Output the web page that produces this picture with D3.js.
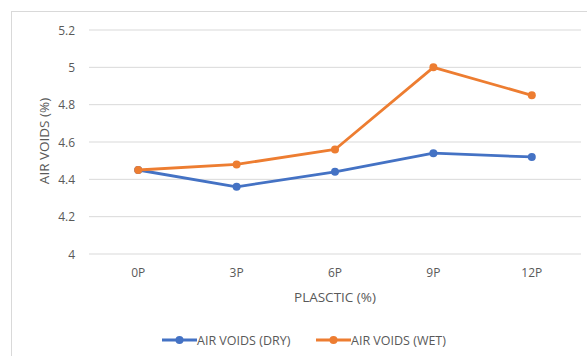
<!DOCTYPE html>
<html><head><meta charset="utf-8">
<script src="https://cdn.jsdelivr.net/npm/d3@7"></script>
<style>body{margin:0;background:#fff}svg{display:block}text{font-family:"Open Sans",sans-serif;fill:#595959}</style>
</head><body><svg id="c" width="587" height="356"></svg>
<script>
const categories = ["0P","3P","6P","9P","12P"];
const dryValues = [4.45,4.36,4.44,4.54,4.52];
const wetValues = [4.45,4.48,4.56,5.0,4.85];
const yTicks = [4,4.2,4.4,4.6,4.8,5,5.2];
const seriesNames = ["AIR VOIDS (DRY)","AIR VOIDS (WET)"];
const colors = ["#4472C4","#ED7D31"];

const svg = d3.select("#c");
svg.append("rect").attr("x",11.5).attr("y",11.5).attr("width",590).attr("height",360)
  .attr("fill","#fff").attr("stroke","#d9d9d9");

const x = d3.scaleBand().domain(categories).range([89,581]);
const y = d3.scaleLinear().domain([4,5.2]).range([254,30]);

const g = svg.append("g");
g.selectAll("line.grid").data(yTicks).join("line")
  .attr("x1",89).attr("x2",581).attr("y1",d=>y(d)).attr("y2",d=>y(d))
  .attr("stroke","#d9d9d9").attr("stroke-width",1);

g.selectAll("text.yt").data(yTicks).join("text")
  .attr("x",75).attr("y",d=>y(d)+4.5).attr("text-anchor","end")
  .attr("font-size",12).text(d=>d3.format("~g")(d));

g.selectAll("text.xt").data(categories).join("text")
  .attr("x",d=>x(d)+x.bandwidth()/2).attr("y",277).attr("text-anchor","middle")
  .attr("font-size",12).text(d=>d);

svg.append("text").attr("x",335).attr("y",302).attr("text-anchor","middle")
  .attr("font-size",13.5).text("PLASCTIC (%)");
svg.append("text").attr("transform","translate(49,141) rotate(-90)").attr("text-anchor","middle")
  .attr("font-size",13.5).text("AIR VOIDS (%)");

const line = d3.line().x((d,i)=>x(categories[i])+x.bandwidth()/2).y(d=>y(d));
[dryValues,wetValues].forEach((vals,si)=>{
  svg.append("path").datum(vals).attr("d",line).attr("fill","none")
    .attr("stroke",colors[si]).attr("stroke-width",2.8).attr("stroke-linejoin","round");
  svg.selectAll(null).data(vals).join("circle")
    .attr("cx",(d,i)=>x(categories[i])+x.bandwidth()/2).attr("cy",d=>y(d)).attr("r",4)
    .attr("fill",colors[si]);
});

const legX = [162,316];
seriesNames.forEach((n,i)=>{
  const lg = svg.append("g");
  lg.append("line").attr("x1",legX[i]).attr("x2",legX[i]+35).attr("y1",340).attr("y2",340)
    .attr("stroke",colors[i]).attr("stroke-width",2.8);
  lg.append("circle").attr("cx",legX[i]+17.5).attr("cy",340).attr("r",4).attr("fill",colors[i]);
  lg.append("text").attr("x",legX[i]+35).attr("y",344.5).attr("font-size",12.5).text(n);
});
</script></body></html>
